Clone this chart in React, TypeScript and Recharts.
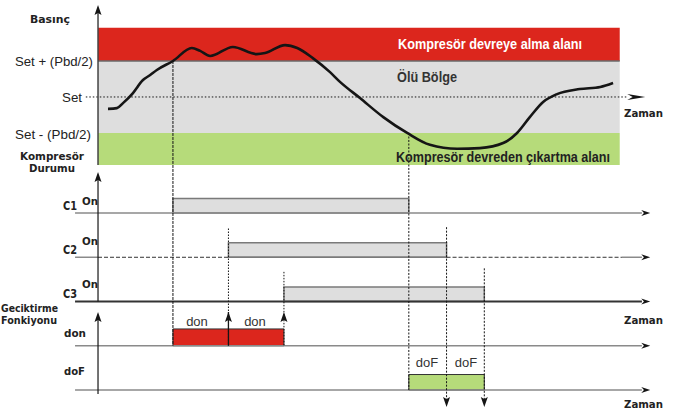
import React from "react";
import { ComposedChart, XAxis, YAxis, Line, ReferenceArea, ReferenceLine, ReferenceDot } from "recharts";

// time axis (arbitrary units), 0 = vertical axis
const T_MIN = -17.66;
const T_MAX = 104.32;
// pressure axis, Set = 0, Set +/- Pbd/2 = +/-1
const P_MAX = 2.694;
const P_MIN = -8.806;
// timing rows, C1 baseline = 0, each row one unit lower
const R_MAX = 4.814;
const R_MIN = -4.542;

const pressureTime = [1.8, 3.4, 4.5, 6.3, 8.1, 9.4, 10.6, 13.5, 16.9, 18.4, 20.2, 24.3, 28.6, 30.1, 33.7, 35.9, 38.7, 41.8, 43.6, 47.2, 51.4, 55.7, 59.8, 64.7, 68.8, 73.0, 75.5, 77.8, 80.2, 82.7, 86.8, 90.5, 92.8];
const pressureValue = [-0.33, -0.31, -0.17, 0.11, 0.47, 0.61, 0.75, 1.0, 1.36, 1.28, 1.14, 1.39, 1.19, 1.22, 1.44, 1.36, 1.08, 0.69, 0.42, -0.03, -0.56, -1.0, -1.33, -1.44, -1.42, -1.28, -1.0, -0.56, -0.14, 0.08, 0.22, 0.28, 0.39];

const compressors = ["C1", "C2", "C3"];
const onTimes = [13.5, 23.5, 33.5];
const offTimes = [56, 62.8, 69.6];
const rowNames = ["C1", "C2", "C3", "don", "doF"];
const rowBase = [0, -1, -2, -3, -4];

const setLevels = [1, 0, -1];
const setLabels = ["Set + (Pbd/2)", "Set", "Set - (Pbd/2)"];
const zoneLabels = ["Kompresör devreye alma alanı", "Ölü Bölge", "Kompresör devreden çıkartma alanı"];
const BAND_TOP = 1.92;
const BAND_BOTTOM = -1.89;
const BAND_END = 94;
const ON_H = 0.33;
const LINE_START = -4.14;
const LINE_END = 98;
const ARROW_TIP = 99.5;

const pressureData = pressureTime.map((t, i) => ({ t, p: pressureValue[i] }));

const pToRow = (p: number) => {
  const frac = (P_MAX - p) / (P_MAX - P_MIN);
  return R_MAX - frac * (R_MAX - R_MIN);
};

const INK = "#151515";

const arrowRight = (len: number, half: number) => (props: any) => {
  const { cx, cy } = props;
  return <polygon points={`${cx},${cy} ${cx - len},${cy - half} ${cx - len * 0.7},${cy} ${cx - len},${cy + half}`} fill={INK} />;
};
const arrowUp = (props: any) => {
  const { cx, cy } = props;
  return <polygon points={`${cx},${cy} ${cx - 3.5},${cy + 10} ${cx},${cy + 8} ${cx + 3.5},${cy + 10}`} fill={INK} />;
};
const arrowDown = (props: any) => {
  const { cx, cy } = props;
  return <polygon points={`${cx},${cy} ${cx - 3.5},${cy - 10} ${cx},${cy - 8} ${cx + 3.5},${cy - 10}`} fill={INK} />;
};

const FONT = "'Liberation Sans', Arial, sans-serif";
const GEO = "'DejaVu Sans', 'Liberation Sans', sans-serif";

function Labels() {
  const bold = { fontFamily: FONT, fontWeight: 700 } as const;
  const geo = { fontFamily: GEO, fontWeight: 700, fill: "#222" } as const;
  const reg = { fontFamily: FONT, fill: "#222" } as const;
  return (
    <svg width={677} height={414} style={{ position: "absolute", left: 0, top: 0, pointerEvents: "none" }}>
      <text x={50} y={23} textAnchor="middle" fontSize={11} textLength={40} lengthAdjust="spacingAndGlyphs" style={geo}>Basınç</text>
      <text x={93} y={66} textAnchor="end" fontSize={13} textLength={78} lengthAdjust="spacingAndGlyphs" style={reg}>{setLabels[0]}</text>
      <text x={82} y={102} textAnchor="end" fontSize={13} textLength={20} lengthAdjust="spacingAndGlyphs" style={reg}>{setLabels[1]}</text>
      <text x={91} y={139} textAnchor="end" fontSize={13} textLength={76} lengthAdjust="spacingAndGlyphs" style={reg}>{setLabels[2]}</text>
      <text x={52} y={160} textAnchor="middle" fontSize={11} textLength={64} lengthAdjust="spacingAndGlyphs" style={geo}>Kompresör</text>
      <text x={52} y={172} textAnchor="middle" fontSize={11} textLength={46} lengthAdjust="spacingAndGlyphs" style={geo}>Durumu</text>
      <text x={398} y={49} fontSize={14} textLength={184} lengthAdjust="spacingAndGlyphs" style={{ ...bold, fill: "#fff" }}>{zoneLabels[0]}</text>
      <text x={397} y={82} fontSize={14} textLength={60} lengthAdjust="spacingAndGlyphs" style={{ ...bold, fill: "#333" }}>{zoneLabels[1]}</text>
      <text x={396} y={162} fontSize={14} textLength={214} lengthAdjust="spacingAndGlyphs" style={{ ...bold, fill: "#222" }}>{zoneLabels[2]}</text>
      <text x={624} y={117} fontSize={10} textLength={39} lengthAdjust="spacingAndGlyphs" style={geo}>Zaman</text>
      <text x={624} y={324} fontSize={10} textLength={39} lengthAdjust="spacingAndGlyphs" style={geo}>Zaman</text>
      <text x={624} y={408} fontSize={10} textLength={39} lengthAdjust="spacingAndGlyphs" style={geo}>Zaman</text>
      {compressors.map((c, i) => (
        <g key={c}>
          <text x={63} y={[210, 254, 298][i]} fontSize={12} textLength={14} lengthAdjust="spacingAndGlyphs" style={geo}>{c}</text>
          <text x={82} y={[205, 245, 288][i]} fontSize={11} textLength={16} lengthAdjust="spacingAndGlyphs" style={geo}>On</text>
        </g>
      ))}
      <text x={1} y={312} fontSize={10} textLength={57} lengthAdjust="spacingAndGlyphs" style={geo}>Geciktirme</text>
      <text x={1} y={324} fontSize={10} textLength={56} lengthAdjust="spacingAndGlyphs" style={geo}>Fonkiyonu</text>
      <text x={64} y={337} fontSize={11} textLength={22} lengthAdjust="spacingAndGlyphs" style={geo}>{rowNames[3]}</text>
      <text x={64} y={375} fontSize={11} textLength={21} lengthAdjust="spacingAndGlyphs" style={geo}>{rowNames[4]}</text>
      <text x={197} y={326} textAnchor="middle" fontSize={13} style={{ fontFamily: FONT, fill: "#333" }}>don</text>
      <text x={255} y={326} textAnchor="middle" fontSize={13} style={{ fontFamily: FONT, fill: "#333" }}>don</text>
      <text x={427} y={367} textAnchor="middle" fontSize={13} style={{ fontFamily: FONT, fill: "#333" }}>doF</text>
      <text x={466} y={367} textAnchor="middle" fontSize={13} style={{ fontFamily: FONT, fill: "#333" }}>doF</text>
    </svg>
  );
}

export default function App() {
  const eventTop = [pToRow(1), rowBase[1] + 0.65, rowBase[2] + 0.67];
  const offTop = [pToRow(-1), rowBase[1] + 0.68, rowBase[2] + 0.75];
  const upTip = rowBase[3] + 0.763;
  const downTip = rowBase[4] - 0.384;

  return (
    <div style={{ width: 677, height: 414, background: "#fff", position: "relative" }}>
      <style>{"body{margin:0}"}</style>
      <ComposedChart width={677} height={414} margin={{ top: 0, right: 0, bottom: 0, left: 0 }}>
        <XAxis type="number" dataKey="t" domain={[T_MIN, T_MAX]} allowDataOverflow hide />
        <YAxis yAxisId="p" type="number" domain={[P_MIN, P_MAX]} allowDataOverflow hide />
        <YAxis yAxisId="r" type="number" domain={[R_MIN, R_MAX]} allowDataOverflow hide />

        {/* pressure zones */}
        <ReferenceArea yAxisId="p" x1={0} x2={BAND_END} y1={setLevels[0]} y2={BAND_TOP} fill="#dc261d" fillOpacity={1} stroke="none" />
        <ReferenceArea yAxisId="p" x1={0} x2={BAND_END} y1={setLevels[2]} y2={setLevels[0]} fill="#dedede" fillOpacity={1} stroke="none" />
        <ReferenceArea yAxisId="p" x1={0} x2={BAND_END} y1={BAND_BOTTOM} y2={setLevels[2]} fill="#b6db7a" fillOpacity={1} stroke="none" />
        <ReferenceLine yAxisId="p" segment={[{ x: 0, y: setLevels[0] }, { x: BAND_END, y: setLevels[0] }]} stroke="#6a6a6a" strokeWidth={1.5} />
        <ReferenceLine yAxisId="p" segment={[{ x: -2.2, y: setLevels[1] }, { x: 95.5, y: setLevels[1] }]} stroke={INK} strokeWidth={1} strokeDasharray="1.5 2" />
        <ReferenceDot yAxisId="p" x={98.6} y={setLevels[1]} r={0} shape={arrowRight(18, 3)} />
        <ReferenceLine yAxisId="p" segment={[{ x: 0, y: BAND_BOTTOM }, { x: 0, y: 2.45 }]} stroke="#444" strokeWidth={1.5} />
        <ReferenceDot yAxisId="p" x={0} y={2.556} r={0} shape={arrowUp} />

        {/* compressor state bars */}
        {compressors.map((c, i) => (
          <ReferenceArea key={c} yAxisId="r" x1={onTimes[i]} x2={offTimes[i]} y1={rowBase[i]} y2={rowBase[i] + ON_H} fill="#dedede" fillOpacity={1} stroke="#7a7a7a" strokeWidth={1.5} />
        ))}
        <ReferenceArea yAxisId="r" x1={onTimes[0]} x2={onTimes[2]} y1={rowBase[3]} y2={rowBase[3] + 0.38} fill="#dc261d" fillOpacity={1} stroke="#333" strokeWidth={1} />
        <ReferenceArea yAxisId="r" x1={offTimes[0]} x2={offTimes[2]} y1={rowBase[4]} y2={rowBase[4] + 0.35} fill="#b6db7a" fillOpacity={1} stroke="#333" strokeWidth={1} />

        {/* baselines */}
        {rowBase.map((b, i) =>
          i === 1 ? null : (
            <ReferenceLine key={rowNames[i]} yAxisId="r" segment={[{ x: LINE_START, y: b }, { x: LINE_END, y: b }]} stroke={i === 2 ? "#333" : "#8a8a8a"} strokeWidth={i === 2 ? 2 : 1.5} />
          )
        )}
        <ReferenceLine yAxisId="r" segment={[{ x: LINE_START, y: rowBase[1] }, { x: 0, y: rowBase[1] }]} stroke="#8a8a8a" strokeWidth={1.5} />
        <ReferenceLine yAxisId="r" segment={[{ x: 0, y: rowBase[1] }, { x: onTimes[1], y: rowBase[1] }]} stroke="#333" strokeWidth={1} strokeDasharray="4 2" />
        <ReferenceLine yAxisId="r" segment={[{ x: onTimes[1], y: rowBase[1] }, { x: offTimes[1], y: rowBase[1] }]} stroke="#7a7a7a" strokeWidth={1.5} />
        <ReferenceLine yAxisId="r" segment={[{ x: offTimes[1], y: rowBase[1] }, { x: 94.4, y: rowBase[1] }]} stroke="#333" strokeWidth={1} strokeDasharray="4 2" />
        <ReferenceLine yAxisId="r" segment={[{ x: 94.4, y: rowBase[1] }, { x: LINE_END, y: rowBase[1] }]} stroke="#8a8a8a" strokeWidth={1.5} />
        {rowBase.map((b, i) => (
          <ReferenceDot key={"a" + i} yAxisId="r" x={ARROW_TIP} y={b} r={0} shape={arrowRight(9, 3)} />
        ))}

        {/* lower vertical axis */}
        <ReferenceLine yAxisId="r" segment={[{ x: 0, y: rowBase[2] }, { x: 0, y: 0.75 }]} stroke={INK} strokeWidth={1.2} />
        <ReferenceDot yAxisId="r" x={0} y={0.927} r={0} shape={arrowUp} />
        <ReferenceLine yAxisId="r" segment={[{ x: 0, y: -4.09 }, { x: 0, y: upTip - 0.15 }]} stroke={INK} strokeWidth={1.2} />
        <ReferenceDot yAxisId="r" x={0} y={upTip} r={0} shape={arrowUp} />

        {/* switching events */}
        {onTimes.map((t, i) => (
          <ReferenceLine key={"on" + i} yAxisId="r" segment={[{ x: t, y: eventTop[i] }, { x: t, y: rowBase[3] }]} stroke={INK} strokeWidth={1} strokeDasharray={i === 0 ? "3 1" : "1.5 1.5"} />
        ))}
        {offTimes.map((t, i) => (
          <ReferenceLine key={"off" + i} yAxisId="r" segment={[{ x: t, y: offTop[i] }, { x: t, y: i === 0 ? rowBase[4] : downTip + 0.15 }]} stroke={INK} strokeWidth={1} strokeDasharray="2 1.5" />
        ))}
        <ReferenceLine yAxisId="r" segment={[{ x: onTimes[1], y: upTip }, { x: onTimes[1], y: rowBase[3] }]} stroke={INK} strokeWidth={1.3} />
        {onTimes.slice(1).map((t) => (
          <ReferenceDot key={"u" + t} yAxisId="r" x={t} y={upTip} r={0} shape={arrowUp} />
        ))}
        {offTimes.slice(1).map((t) => (
          <ReferenceDot key={"d" + t} yAxisId="r" x={t} y={downTip} r={0} shape={arrowDown} />
        ))}

        <Line yAxisId="p" data={pressureData} dataKey="p" type="monotone" dot={false} activeDot={false} stroke={INK} strokeWidth={2.6} isAnimationActive={false} />
      </ComposedChart>
      <Labels />
    </div>
  );
}
